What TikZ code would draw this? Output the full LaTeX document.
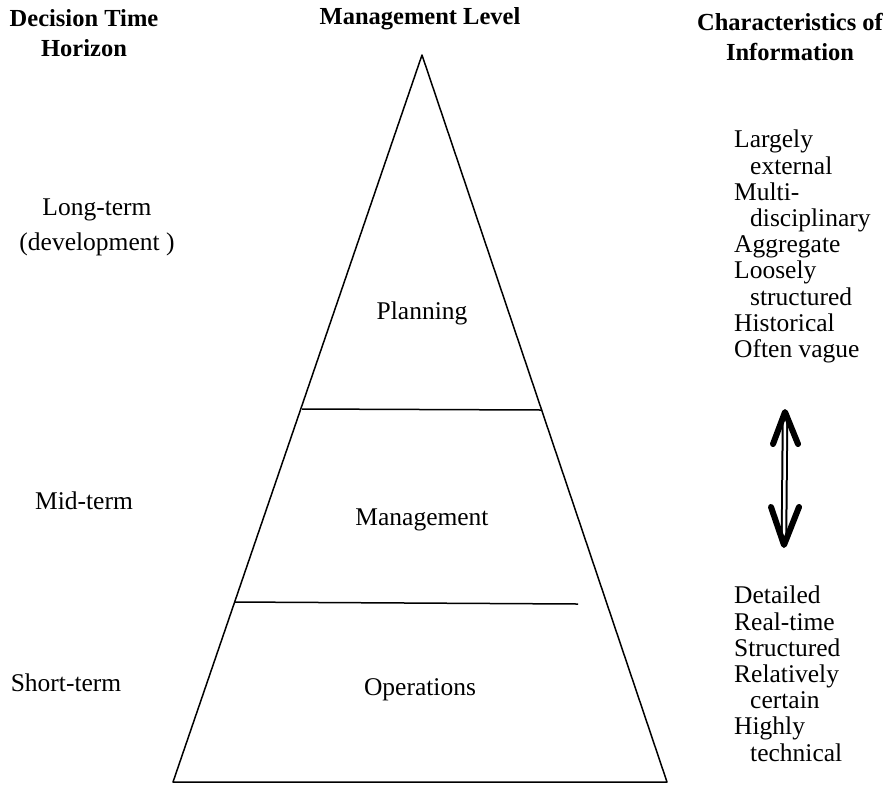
\documentclass[tikz,border=0pt]{standalone}
\usepackage{fontspec}
\setmainfont{Liberation Serif}
\usetikzlibrary{calc}

\begin{document}
\begin{tikzpicture}[
  x=1pt,y=-1pt,
  head/.style={font=\fontsize{24.5}{30}\selectfont\bfseries,align=center,inner sep=0pt},
  label/.style={font=\fontsize{25.5}{35}\selectfont,inner sep=0pt},
  list/.style={font=\fontsize{25.5}{26.2}\selectfont,align=left,inner sep=0pt,anchor=north west},
  edge/.style={line width=1.5pt,line join=round}
]
\useasboundingbox (0,0) rectangle (885,788);
% pyramid
\coordinate (apex) at (422,55);
\coordinate (bl) at (173,782);
\coordinate (br) at (667,782);
\coordinate (l1) at (302,409);
\coordinate (r1) at (542,410);
\coordinate (l2) at (235,602);
\coordinate (r2) at (578,604);
\draw[edge] (apex) -- (br) -- (bl) -- cycle;
\draw[edge] (l1) -- (r1);
\draw[edge] (l2) -- (r2);
\node[label] (planning) at (422,313) {Planning};
\node[label] (management) at (422,520) {Management};
\node[label] (operations) at (420,690) {Operations};
% headings
\node[head] (horizon) at (84,33) {Decision Time\\Horizon};
\node[head] (level) at (420,19) {Management Level};
\node[head] (info) at (790,37) {Characteristics of\\Information};
% time horizons
\node[label,align=center] (long) at (97,227) {Long-term\\(development )};
\node[label] (mid) at (84,501) {Mid-term};
\node[label] (short) at (66,683) {Short-term};
% characteristics
\node[list] (upper) at (734,130) {Largely\\\hspace{16pt}external\\Multi-\\\hspace{16pt}disciplinary\\Aggregate\\Loosely\\\hspace{16pt}structured\\Historical\\Often vague};
\node[list] (lower) at (734,586) {Detailed\\Real-time\\Structured\\Relatively\\\hspace{16pt}certain\\Highly\\\hspace{16pt}technical};
% double arrow
\coordinate (top) at (785,412);
\coordinate (bot) at (784,545);
\draw[double,double distance=2.5pt,line width=2pt] ($(top)+(0,8)$) -- ($(bot)+(0,-8)$);
\draw[line width=6pt,line cap=round,line join=round] ($(top)+(-12,32)$) -- (top) -- ($(top)+(13,32)$);
\draw[line width=6pt,line cap=round,line join=round] ($(bot)+(-13,-38)$) -- (bot) -- ($(bot)+(15,-38)$);
\end{tikzpicture}
\end{document}
